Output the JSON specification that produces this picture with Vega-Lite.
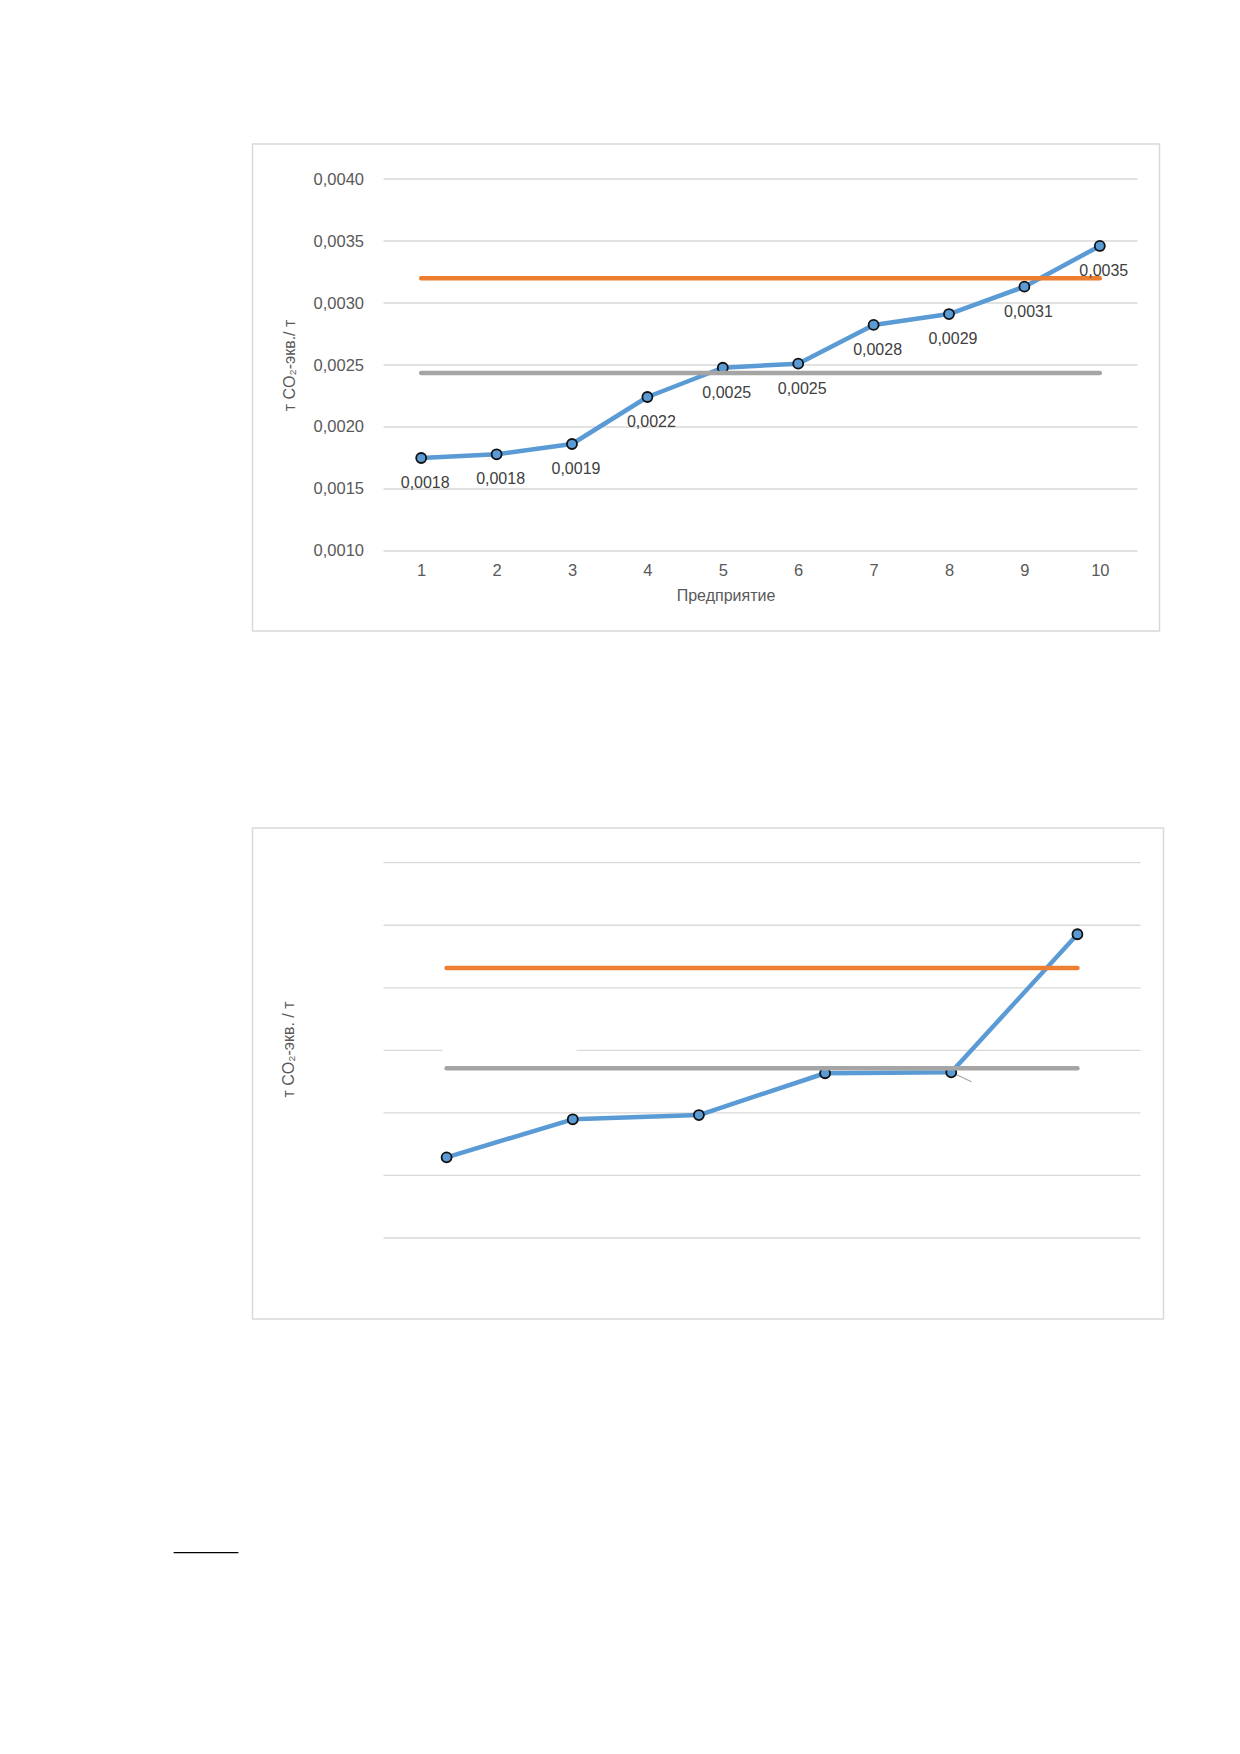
{
  "$schema": "https://vega.github.io/schema/vega-lite/v6.json",
  "padding": {"left": 171.5, "top": 143, "right": 0, "bottom": 0},
  "bounds": "flush",
  "spacing": 197,
  "datasets": {
    "first": [
      {"n": 1, "value": 0.00175, "upper": 0.0032, "middle": 0.002435},
      {"n": 2, "value": 0.00178, "upper": 0.0032, "middle": 0.002435},
      {"n": 3, "value": 0.001863, "upper": 0.0032, "middle": 0.002435},
      {"n": 4, "value": 0.002242, "upper": 0.0032, "middle": 0.002435},
      {"n": 5, "value": 0.002478, "upper": 0.0032, "middle": 0.002435},
      {"n": 6, "value": 0.002511, "upper": 0.0032, "middle": 0.002435},
      {"n": 7, "value": 0.002823, "upper": 0.0032, "middle": 0.002435},
      {"n": 8, "value": 0.002911, "upper": 0.0032, "middle": 0.002435},
      {"n": 9, "value": 0.0031315, "upper": 0.0032, "middle": 0.002435},
      {"n": 10, "value": 0.00346, "upper": 0.0032, "middle": 0.002435}
    ],
    "second": [
      {"n": 1, "value": 0.001645, "upper": 0.003158, "middle": 0.002357},
      {"n": 2, "value": 0.001949, "upper": 0.003158, "middle": 0.002357},
      {"n": 3, "value": 0.001983, "upper": 0.003158, "middle": 0.002357},
      {"n": 4, "value": 0.002317, "upper": 0.003158, "middle": 0.002357},
      {"n": 5, "value": 0.0023245, "upper": 0.003158, "middle": 0.002357},
      {"n": 6, "value": 0.003428, "upper": 0.003158, "middle": 0.002357}
    ],
    "gridlines": [
      {"y": 0.001}, {"y": 0.0015}, {"y": 0.002}, {"y": 0.0025},
      {"y": 0.003}, {"y": 0.0035}, {"y": 0.004}
    ]
  },
  "vconcat": [
    {
      "width": 907,
      "height": 487,
      "resolve": {"axis": {"x": "independent", "y": "independent"}},
      "layer": [
        {
          "data": {"name": "gridlines"},
          "mark": {"type": "rule", "color": "#d9d9d9", "strokeWidth": 1.3},
          "encoding": {
            "x": {"datum": 0.5, "type": "quantitative", "axis": null, "scale": {"domain": [-1.2374, 10.7918], "nice": false, "zero": false}},
            "x2": {"datum": 10.5},
            "y": {"field": "y", "type": "quantitative", "axis": null, "scale": {"domain": [0.0003548, 0.0042823], "nice": false, "zero": false}}
          }
        },
        {
          "data": {"name": "first"},
          "mark": {"type": "line", "color": "#5b9bd5", "strokeWidth": 4.5, "strokeCap": "round", "strokeJoin": "round"},
          "encoding": {
            "x": {
              "field": "n", "type": "quantitative",
              "axis": {
                "orient": "bottom",
                "values": [1, 2, 3, 4, 5, 6, 7, 8, 9, 10], "format": "d",
                "grid": false, "domain": false, "ticks": false, "labelFlush": false,
                "offset": -80, "labelPadding": 11,
                "title": "Предприятие", "titlePadding": 9, "titleX": 473
              }
            },
            "y": {
              "field": "value", "type": "quantitative",
              "axis": {
                "orient": "left",
                "values": [0.001, 0.0015, 0.002, 0.0025, 0.003, 0.0035, 0.004], "format": ".4f",
                "labelExpr": "replace(datum.label, '.', ',')",
                "grid": false, "domain": false, "ticks": false, "labelFlush": false,
                "offset": -115, "labelPadding": 4,
                "title": "т CO₂-экв./ т", "titlePadding": 16, "titleY": 221
              }
            }
          }
        },
        {
          "data": {"name": "first"},
          "mark": {"type": "circle", "size": 100, "color": "#5b9bd5", "opacity": 1, "stroke": "#111111", "strokeWidth": 1.8},
          "encoding": {
            "x": {"field": "n", "type": "quantitative", "axis": null},
            "y": {"field": "value", "type": "quantitative", "axis": null}
          }
        },
        {
          "data": {"name": "first"},
          "mark": {"type": "line", "color": "#ed7d31", "strokeWidth": 4.5, "strokeCap": "round"},
          "encoding": {
            "x": {"field": "n", "type": "quantitative", "axis": null},
            "y": {"field": "upper", "type": "quantitative", "axis": null}
          }
        },
        {
          "data": {"name": "first"},
          "mark": {"type": "line", "color": "#a5a5a5", "strokeWidth": 4.5, "strokeCap": "round"},
          "encoding": {
            "x": {"field": "n", "type": "quantitative", "axis": null},
            "y": {"field": "middle", "type": "quantitative", "axis": null}
          }
        },
        {
          "data": {"name": "first"},
          "mark": {
            "type": "text", "dx": 4, "dy": 25, "fontSize": 16, "color": "#404040", "baseline": "middle",
            "text": {"expr": "replace(format(datum.value, '.4f'), '.', ',')"}
          },
          "encoding": {
            "x": {"field": "n", "type": "quantitative", "axis": null},
            "y": {"field": "value", "type": "quantitative", "axis": null}
          }
        }
      ]
    },
    {
      "width": 911,
      "height": 491,
      "resolve": {"axis": {"x": "independent", "y": "independent"}},
      "layer": [
        {
          "data": {"name": "gridlines"},
          "mark": {"type": "rule", "color": "#d9d9d9", "strokeWidth": 1.3},
          "encoding": {
            "x": {"datum": 0.5, "type": "quantitative", "axis": null, "scale": {"domain": [-0.5383, 6.6822], "nice": false, "zero": false}},
            "x2": {"datum": 6.5},
            "y": {"field": "y", "type": "quantitative", "axis": null, "scale": {"domain": [0.0003525, 0.0042774], "nice": false, "zero": false}}
          }
        },
        {
          "data": {"values": [{"gap": 1}]},
          "mark": {"type": "rect", "fill": "#ffffff"},
          "encoding": {
            "x": {"datum": 0.965, "type": "quantitative", "axis": null},
            "x2": {"datum": 2.03},
            "y": {"datum": 0.00253, "type": "quantitative", "axis": null},
            "y2": {"datum": 0.00247}
          }
        },
        {
          "data": {"name": "second"},
          "mark": {"type": "line", "color": "#5b9bd5", "strokeWidth": 4.5, "strokeCap": "round", "strokeJoin": "round"},
          "encoding": {
            "x": {"field": "n", "type": "quantitative", "axis": null},
            "y": {
              "field": "value", "type": "quantitative",
              "axis": {
                "orient": "left",
                "labels": false, "grid": false, "domain": false, "ticks": false,
                "offset": -43.5, "title": "т CO₂-экв. / т", "titlePadding": 0, "titleY": 221
              }
            }
          }
        },
        {
          "data": {"values": [{"leader": 1}]},
          "mark": {"type": "rule", "color": "#a6a6a6", "strokeWidth": 1.2},
          "encoding": {
            "x": {"datum": 5, "type": "quantitative", "axis": null},
            "x2": {"datum": 5.16},
            "y": {"datum": 0.0023245, "type": "quantitative", "axis": null},
            "y2": {"datum": 0.002249}
          }
        },
        {
          "data": {"name": "second"},
          "mark": {"type": "circle", "size": 100, "color": "#5b9bd5", "opacity": 1, "stroke": "#111111", "strokeWidth": 1.8},
          "encoding": {
            "x": {"field": "n", "type": "quantitative", "axis": null},
            "y": {"field": "value", "type": "quantitative", "axis": null}
          }
        },
        {
          "data": {"name": "second"},
          "mark": {"type": "line", "color": "#ed7d31", "strokeWidth": 4.5, "strokeCap": "round"},
          "encoding": {
            "x": {"field": "n", "type": "quantitative", "axis": null},
            "y": {"field": "upper", "type": "quantitative", "axis": null}
          }
        },
        {
          "data": {"name": "second"},
          "mark": {"type": "line", "color": "#a5a5a5", "strokeWidth": 4.5, "strokeCap": "round"},
          "encoding": {
            "x": {"field": "n", "type": "quantitative", "axis": null},
            "y": {"field": "middle", "type": "quantitative", "axis": null}
          }
        },
        {
          "data": {"values": [{"footnote": 1}]},
          "mark": {"type": "rule", "color": "#000000", "strokeWidth": 1.3},
          "encoding": {
            "x": {"datum": -1.1636, "type": "quantitative", "axis": null},
            "x2": {"datum": -0.65},
            "y": {"datum": -0.0015148, "type": "quantitative", "axis": null}
          }
        }
      ]
    }
  ],
  "config": {
    "font": "Liberation Sans",
    "background": "#ffffff",
    "view": {"stroke": "#d9d9d9", "strokeWidth": 1.5},
    "axis": {
      "labelFont": "Liberation Sans", "labelFontSize": 16.5, "labelColor": "#595959",
      "titleFont": "Liberation Sans", "titleFontSize": 16, "titleFontWeight": "normal", "titleColor": "#595959"
    }
  }
}
